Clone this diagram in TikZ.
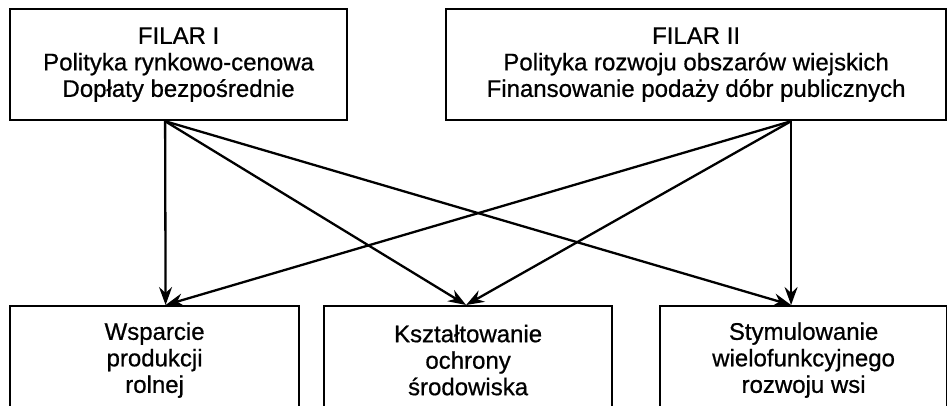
\documentclass[tikz,border=0pt]{standalone}
\usepackage{fontspec}
\setmainfont{Liberation Sans}[FakeBold=0.7]
\usetikzlibrary{arrows.meta}
\begin{document}
\begin{tikzpicture}[x=1pt,y=-1pt,
  box/.style={draw, line width=2.2pt, inner sep=0pt, align=center, anchor=north west,
    font=\fontsize{24}{26.5}\selectfont},
  link/.style={line width=2.3pt, -{Stealth[length=18pt,width=13pt,inset=6pt]}}]
\clip (0,0) rectangle (947,405);
% the two pillars
\node[box, minimum width=337pt, minimum height=111pt] (f1) at (9,8)
  {FILAR I\\Polityka rynkowo-cenowa\\Dopłaty bezpośrednie};
\node[box, minimum width=500pt, minimum height=111pt] (f2) at (445,8)
  {FILAR II\\Polityka rozwoju obszarów wiejskich\\Finansowanie podaży dóbr publicznych};
% the three goals (running past the lower edge)
\node[box, minimum width=289pt, minimum height=108pt] (b1) at (9,305)
  {Wsparcie\\produkcji\\rolnej};
\node[box, minimum width=288pt, minimum height=108pt] (b2) at (323,305)
  {Kształtowanie\\ochrony\\środowiska};
\node[box, minimum width=287pt, minimum height=108pt] (b3) at (659,305)
  {Stymulowanie\\wielofunkcyjnego\\rozwoju wsi};
% outlets and inlets of the links
\coordinate (s1) at ([xshift=-13.5pt]f1.south);
\coordinate (s2) at ([xshift=95pt]f2.south);
\coordinate (t1) at ([xshift=11pt]b1.north);
\coordinate (t2) at ([xshift=-2pt]b2.north);
\coordinate (t3) at ([xshift=-12.5pt]b3.north);
\foreach \s in {s1,s2}
  \foreach \t in {t1,t2,t3}
    \draw[link] (\s) -- (\t);
\end{tikzpicture}
\end{document}
